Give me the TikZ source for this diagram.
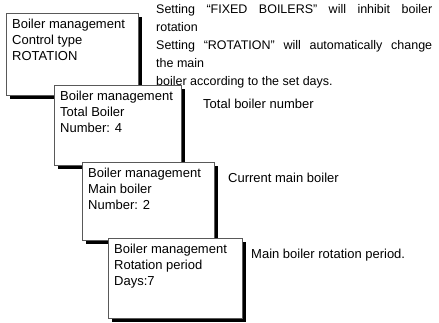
\documentclass[tikz,border=0pt]{standalone}
\usepackage{fontspec}
\setmainfont{Liberation Sans}
\usetikzlibrary{shadows,positioning}

\begin{document}
\begin{tikzpicture}[x=1pt,y=-1pt,font=\fontsize{13}{16}\selectfont]

		\tikzstyle{panel}=[draw=black!65,fill=white,anchor=north west,inner sep=0pt,
			drop shadow={shadow xshift=4pt,shadow yshift=-4pt,fill=black,opacity=1}]
		\tikzstyle{lines}=[anchor=north west,align=left,inner xsep=6pt,inner ysep=5.5pt]
		\tikzstyle{note}=[anchor=west,inner sep=0pt]

		\useasboundingbox (0,0) rectangle (439,322);

		% menu screens
		\node[panel,minimum width=132pt,minimum height=82pt,
			label={[lines]north west:{Boiler management\\Control type\\ROTATION}}] (B1) at (6,13) {};
		\node[panel,minimum width=127pt,minimum height=80pt,
			label={[lines]north west:{Boiler management\\Total Boiler\\Number: 4}}] (B2) at (54,85) {};
		\node[panel,minimum width=132pt,minimum height=78pt,
			label={[lines]north west:{Boiler management\\Main boiler\\Number: 2}}] (B3) at (82,162) {};
		\node[panel,minimum width=134pt,minimum height=80pt,
			label={[lines]north west:{Boiler management\\Rotation period\\Days:7}}] (B4) at (108,238) {};

		% explanations
		\node[anchor=north west,align=left,inner sep=0pt,font=\fontsize{12.5}{18}\selectfont] (T1) at (156,4)
			{\makebox[276pt][s]{Setting “FIXED BOILERS” will inhibit boiler}\\rotation\\
			 \makebox[276pt][s]{Setting “ROTATION” will automatically change}\\the main\\
			 boiler according to the set days.};
		\node[note] (T2) at (203,104) {Total boiler number};
		\node[note] (T3) at (228,178) {Current main boiler};
		\node[note] (T4) at (251,255) {Main boiler rotation period.};

	\end{tikzpicture}
\end{document}
